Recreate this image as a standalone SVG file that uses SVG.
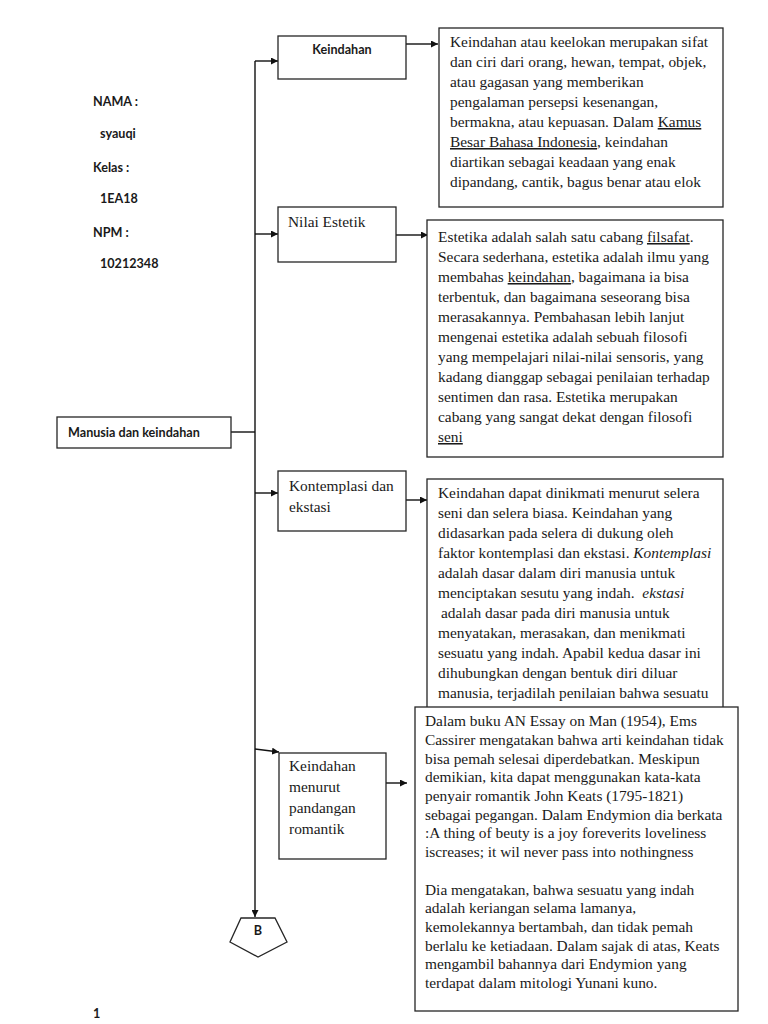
<svg xmlns="http://www.w3.org/2000/svg" width="768" height="1024" viewBox="0 0 768 1024">
<style>
.box{fill:#fff;stroke:#262626;stroke-width:1.3}
.ln{fill:none;stroke:#111;stroke-width:1.4}
.sans{font-family:Lato,"Liberation Sans",sans-serif;font-weight:700;font-size:12.6px;fill:#1a1a1a}
.ser{font-family:"Liberation Serif","Times New Roman",serif;font-size:15.4px;fill:#1a1a1a}
.ser2{font-family:"Liberation Serif","Times New Roman",serif;font-size:15.4px;fill:#1a1a1a}
.u{text-decoration:underline}
</style>
<defs>
<marker id="ah" viewBox="0 0 10 10" refX="10" refY="5" markerWidth="7" markerHeight="7" markerUnits="userSpaceOnUse" orient="auto"><path d="M0,0L10,5L0,10z" fill="#111"/></marker>
</defs>
<rect width="768" height="1024" fill="#fff"/>

<g id="info" class="sans">
<text x="93" y="106">NAMA :</text>
<text x="100" y="138">syauqi</text>
<text x="93" y="172">Kelas :</text>
<text x="100" y="203">1EA18</text>
<text x="93" y="237">NPM :</text>
<text x="100" y="268">10212348</text>
</g>

<g id="connectors">
<path class="ln" d="M231,432H255"/>
<path class="ln" d="M255,61V917" marker-end="url(#ah)"/>
<path class="ln" d="M255,61H278" marker-end="url(#ah)"/>
<path class="ln" d="M255,234H278" marker-end="url(#ah)"/>
<path class="ln" d="M255,493H278" marker-end="url(#ah)"/>
<path class="ln" d="M255,749L279,752" marker-end="url(#ah)"/>
<path class="ln" d="M406,44H438" marker-end="url(#ah)"/>
<path class="ln" d="M396,235H428" marker-end="url(#ah)"/>
<path class="ln" d="M406,500H427" marker-end="url(#ah)"/>
<path class="ln" d="M386,783H407" marker-end="url(#ah)"/>
</g>

<g id="root">
<rect class="box" x="57" y="417" width="174" height="31"/>
<text class="sans" x="68" y="437" font-size="13.4">Manusia dan keindahan</text>
</g>

<g id="n-keindahan">
<rect class="box" x="278" y="36" width="128" height="43"/>
<text class="sans" x="342" y="54" text-anchor="middle">Keindahan</text>
</g>

<g id="n-nilai">
<rect class="box" x="278" y="207" width="118" height="55"/>
<text class="ser" x="288" y="227">Nilai Estetik</text>
</g>

<g id="n-kontemplasi">
<rect class="box" x="278" y="471" width="128" height="60"/>
<text class="ser" x="289" y="491">Kontemplasi dan</text>
<text class="ser" x="289" y="512">ekstasi</text>
</g>

<g id="n-romantik">
<rect class="box" x="279" y="753" width="107" height="106"/>
<text class="ser" x="289" y="771">Keindahan</text>
<text class="ser" x="289" y="792">menurut</text>
<text class="ser" x="289" y="813">pandangan</text>
<text class="ser" x="289" y="834">romantik</text>
</g>

<g id="d-keindahan">
<rect class="box" x="439" y="28" width="284" height="179"/>
<text class="ser">
<tspan x="450" y="47">Keindahan atau keelokan merupakan sifat</tspan>
<tspan x="450" y="67">dan ciri dari orang, hewan, tempat, objek,</tspan>
<tspan x="450" y="87">atau gagasan yang memberikan</tspan>
<tspan x="450" y="107">pengalaman persepsi kesenangan,</tspan>
<tspan x="450" y="127">bermakna, atau kepuasan. Dalam <tspan class="u">Kamus</tspan></tspan>
<tspan x="450" y="147"><tspan class="u">Besar Bahasa Indonesia</tspan>, keindahan</tspan>
<tspan x="450" y="167">diartikan sebagai keadaan yang enak</tspan>
<tspan x="450" y="187">dipandang, cantik, bagus benar atau elok</tspan>
</text>
</g>

<g id="d-nilai">
<rect class="box" x="427" y="220" width="296" height="237"/>
<text class="ser">
<tspan x="438" y="242">Estetika adalah salah satu cabang <tspan class="u">filsafat</tspan>.</tspan>
<tspan x="438" y="262">Secara sederhana, estetika adalah ilmu yang</tspan>
<tspan x="438" y="282">membahas <tspan class="u">keindahan</tspan>, bagaimana ia bisa</tspan>
<tspan x="438" y="302">terbentuk, dan bagaimana seseorang bisa</tspan>
<tspan x="438" y="322">merasakannya. Pembahasan lebih lanjut</tspan>
<tspan x="438" y="342">mengenai estetika adalah sebuah filosofi</tspan>
<tspan x="438" y="362">yang mempelajari nilai-nilai sensoris, yang</tspan>
<tspan x="438" y="382">kadang dianggap sebagai penilaian terhadap</tspan>
<tspan x="438" y="402">sentimen dan rasa. Estetika merupakan</tspan>
<tspan x="438" y="422">cabang yang sangat dekat dengan filosofi</tspan>
<tspan x="438" y="442" class="u">seni</tspan>
</text>
</g>

<g id="d-kontemplasi">
<rect class="box" x="427" y="479" width="296" height="260"/>
<text class="ser">
<tspan x="438" y="498">Keindahan dapat dinikmati menurut selera</tspan>
<tspan x="438" y="518">seni dan selera biasa. Keindahan yang</tspan>
<tspan x="438" y="538">didasarkan pada selera di dukung oleh</tspan>
<tspan x="438" y="558">faktor kontemplasi dan ekstasi. <tspan font-style="italic">Kontemplasi</tspan></tspan>
<tspan x="438" y="578">adalah dasar dalam diri manusia untuk</tspan>
<tspan x="438" y="598" xml:space="preserve">menciptakan sesutu yang indah.  <tspan font-style="italic">ekstasi</tspan></tspan>
<tspan x="441" y="618">adalah dasar pada diri manusia untuk</tspan>
<tspan x="438" y="638">menyatakan, merasakan, dan menikmati</tspan>
<tspan x="438" y="658">sesuatu yang indah. Apabil kedua dasar ini</tspan>
<tspan x="438" y="678">dihubungkan dengan bentuk diri diluar</tspan>
<tspan x="438" y="698">manusia, terjadilah penilaian bahwa sesuatu</tspan>
</text>
</g>

<g id="d-romantik">
<rect class="box" x="415" y="707" width="323" height="304"/>
<text class="ser2">
<tspan x="425" y="726">Dalam buku AN Essay on Man (1954), Ems</tspan>
<tspan x="425" y="745">Cassirer mengatakan bahwa arti keindahan tidak</tspan>
<tspan x="425" y="764">bisa pemah selesai diperdebatkan. Meskipun</tspan>
<tspan x="425" y="782">demikian, kita dapat menggunakan kata-kata</tspan>
<tspan x="425" y="801">penyair romantik John Keats (1795-1821)</tspan>
<tspan x="425" y="820">sebagai pegangan. Dalam Endymion dia berkata</tspan>
<tspan x="425" y="838">:A thing of beuty is a joy foreverits loveliness</tspan>
<tspan x="425" y="857">iscreases; it wil never pass into nothingness</tspan>
<tspan x="425" y="895">Dia mengatakan, bahwa sesuatu yang indah</tspan>
<tspan x="425" y="913">adalah keriangan selama lamanya,</tspan>
<tspan x="425" y="932">kemolekannya bertambah, dan tidak pemah</tspan>
<tspan x="425" y="951">berlalu ke ketiadaan. Dalam sajak di atas, Keats</tspan>
<tspan x="425" y="969">mengambil bahannya dari Endymion yang</tspan>
<tspan x="425" y="988">terdapat dalam mitologi Yunani kuno.</tspan>
</text>
</g>

<g id="n-b">
<polygon class="box" points="241,918 275,918 287,942 258,957 230,942"/>
<text class="sans" x="258" y="935" text-anchor="middle" font-size="10">B</text>
</g>

<text class="sans" x="93" y="1018" font-weight="400" font-size="13">1</text>
</svg>
